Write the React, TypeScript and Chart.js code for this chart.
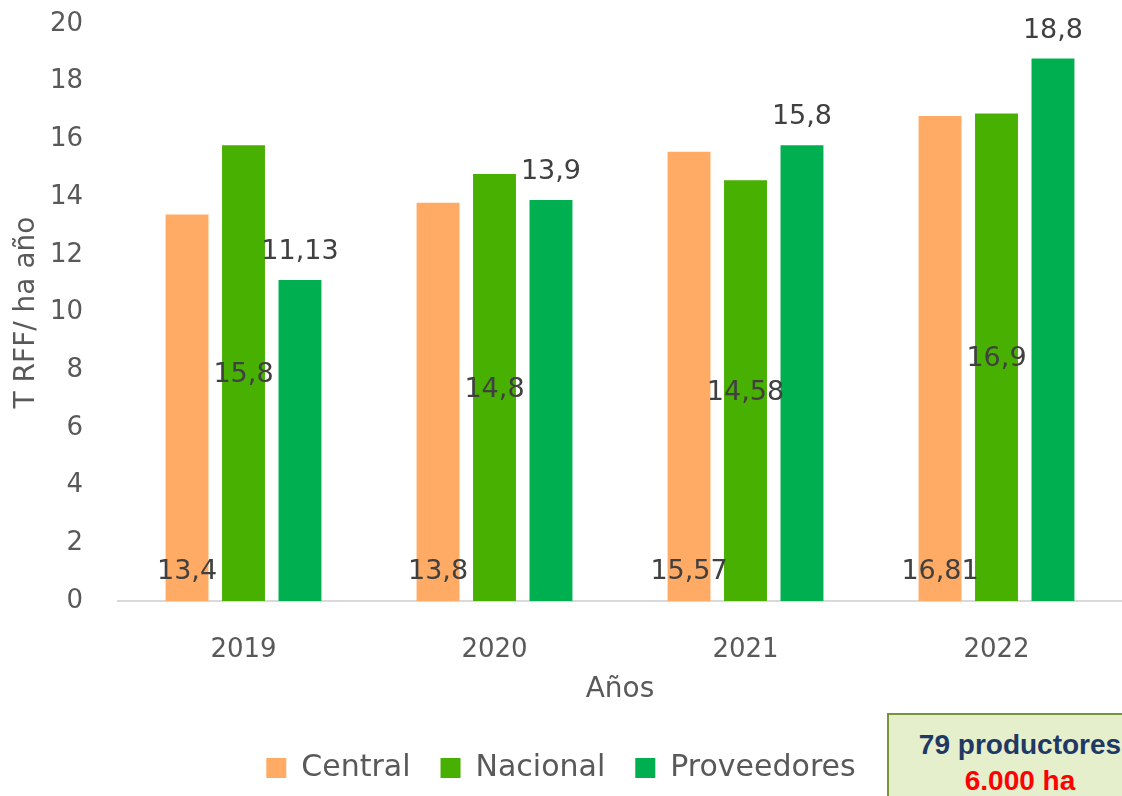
import React, { useEffect, useRef } from "react";
import { Chart, registerables } from "chart.js";

Chart.register(...registerables);

const categories = ["2019", "2020", "2021", "2022"];
const seriesNames = ["Central", "Nacional", "Proveedores"];
const centralValues = [13.4, 13.8, 15.57, 16.81];
const nacionalValues = [15.8, 14.8, 14.58, 16.9];
const proveedoresValues = [11.13, 13.9, 15.8, 18.8];
const seriesColors = ["#FFAB66", "#47B000", "#00B050"];
const yTicks = [0, 2, 4, 6, 8, 10, 12, 14, 16, 18, 20];
const yTitle = "T RFF/ ha año";
const xTitle = "Años";
const boxLine1 = "79 productores";
const boxLine2 = "6.000 ha";

const FONT = '"DejaVu Sans", sans-serif';

const fmt = (v: number) => String(v).replace(".", ",");

const labelPlugin = {
  id: "barLabels",
  afterDatasetsDraw(chart: any) {
    const ctx = chart.ctx;
    ctx.save();
    ctx.font = `27px ${FONT}`;
    ctx.fillStyle = "#404040";
    ctx.textAlign = "center";
    ctx.textBaseline = "middle";
    chart.data.datasets.forEach((ds: any, di: number) => {
      const meta = chart.getDatasetMeta(di);
      meta.data.forEach((bar: any, i: number) => {
        const v = ds.data[i];
        const { x, y, base } = bar.getProps(["x", "y", "base"], true);
        let ly: number;
        if (di === 0) ly = base - 29;
        else if (di === 1) ly = (y + base) / 2 + 2;
        else ly = y - 28;
        ctx.fillText(fmt(v), x, ly);
      });
    });
    ctx.restore();
  },
};

export default function App() {
  const ref = useRef<HTMLCanvasElement | null>(null);

  useEffect(() => {
    if (!ref.current) return;
    const values = [centralValues, nacionalValues, proveedoresValues];
    const chart = new Chart(ref.current, {
      type: "bar",
      data: {
        labels: categories,
        datasets: seriesNames.map((name, i) => ({
          label: name,
          data: values[i],
          backgroundColor: seriesColors[i],
          borderWidth: 0,
          categoryPercentage: 0.675,
          barPercentage: 0.76,
        })),
      },
      options: {
        responsive: false,
        animation: false,
        devicePixelRatio: 1,
        layout: { padding: { top: 24, right: 0, bottom: 3, left: 0 } },
        plugins: {
          tooltip: { enabled: false },
          legend: {
            position: "bottom",
            labels: {
              boxWidth: 20,
              boxHeight: 20,
              padding: 30,
              color: "#595959",
              font: { family: FONT, size: 30 },
            },
          },
        },
        scales: {
          x: {
            grid: { display: false },
            border: { display: true, color: "#D9D9D9", width: 2 },
            ticks: {
              color: "#595959",
              font: { family: FONT, size: 26 },
              padding: 26,
            },
            title: {
              display: true,
              text: xTitle,
              color: "#595959",
              font: { family: FONT, size: 28 },
              padding: { top: 0, bottom: 16 },
            },
            afterFit: (scale: any) => {
              scale.height = 122;
            },
          },
          y: {
            min: 0,
            max: 20,
            grid: { display: false },
            border: { display: false },
            afterBuildTicks: (scale: any) => {
              scale.ticks = yTicks.map((v) => ({ value: v }));
            },
            ticks: {
              color: "#595959",
              font: { family: FONT, size: 26 },
              padding: 27,
            },
            title: {
              display: true,
              text: yTitle,
              color: "#595959",
              font: { family: FONT, size: 28 },
              padding: { top: 10, bottom: 0 },
            },
            afterFit: (scale: any) => {
              scale.width = 118;
              scale.paddingTop = 0;
              scale.paddingBottom = 0;
            },
          },
        },
      } as any,
      plugins: [labelPlugin],
    });
    return () => chart.destroy();
  }, []);

  return (
    <div
      style={{
        position: "fixed",
        left: 0,
        top: 0,
        width: 1122,
        height: 796,
        overflow: "hidden",
        background: "#ffffff",
      }}
    >
      <canvas ref={ref} width={1122} height={796} style={{ display: "block" }} />
      <div
        style={{
          position: "absolute",
          left: 887,
          top: 713,
          width: 266,
          height: 110,
          boxSizing: "border-box",
          border: "2px solid #77933C",
          background: "#E5EFCC",
          fontFamily: '"Liberation Sans", Arial, sans-serif',
          fontWeight: 700,
          fontSize: 28,
          textAlign: "center",
        }}
      >
        <div style={{ position: "absolute", left: 0, right: 0, top: 15, lineHeight: "30px", color: "#1F3864" }}>
          {boxLine1}
        </div>
        <div style={{ position: "absolute", left: 0, right: 0, top: 51, lineHeight: "30px", color: "#FF0000" }}>
          {boxLine2}
        </div>
      </div>
    </div>
  );
}
